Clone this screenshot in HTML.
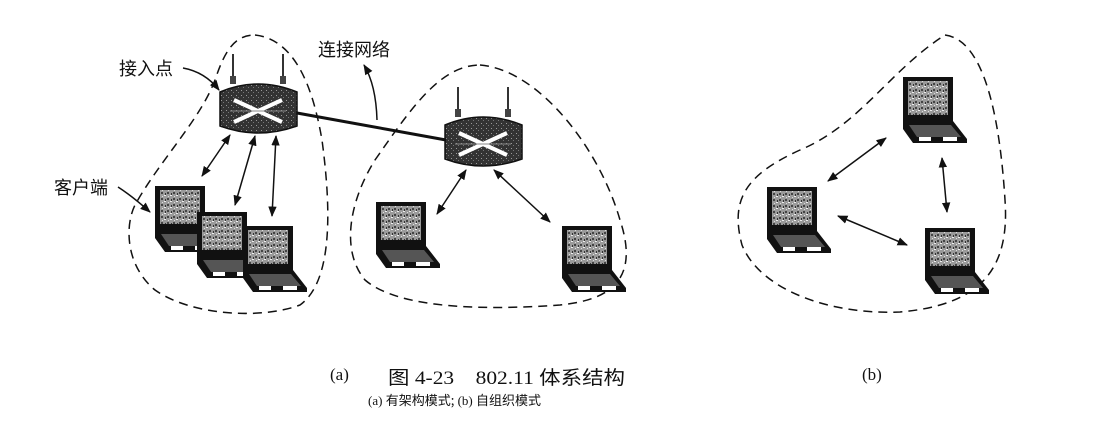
<!DOCTYPE html>
<html><head><meta charset="utf-8"><style>
html,body{margin:0;padding:0;background:#fff;}
svg{display:block;}
text{font-family:"Liberation Serif","Noto Sans CJK SC",serif;fill:#111;}
.cj{font-family:"Noto Sans CJK SC","WenQuanYi Zen Hei",sans-serif;}
</style></head><body>
<svg width="1104" height="423" viewBox="0 0 1104 423" xmlns="http://www.w3.org/2000/svg">
<defs>
<marker id="ah" viewBox="0 0 10 10" refX="9" refY="5" markerWidth="7" markerHeight="7" orient="auto-start-reverse"><path d="M0,1 L10,5 L0,9 z" fill="#111"/></marker>
<pattern id="nz" width="6" height="6" patternUnits="userSpaceOnUse"><rect width="6" height="6" fill="#9a9a9a"/><rect x="0" y="0" width="2" height="2" fill="#444"/><rect x="3" y="3" width="2" height="1" fill="#eee"/><rect x="4" y="1" width="1" height="2" fill="#333"/><rect x="1" y="4" width="1" height="1" fill="#ddd"/></pattern>
<pattern id="nz2" width="5" height="5" patternUnits="userSpaceOnUse"><rect width="5" height="5" fill="#333"/><rect x="1" y="1" width="1" height="1" fill="#999"/><rect x="3" y="3" width="1" height="1" fill="#777"/></pattern>
<g id="lap">
<rect x="0" y="0" width="50" height="44" fill="#111"/>
<rect x="5" y="4" width="40" height="34" fill="url(#nz)"/>
<path d="M0,44 L50,44 L64,62 L64,66 L10,66 L0,52 z" fill="#111"/>
<path d="M6,48 L48,48 L58,60 L14,60 z" fill="#555"/>
<rect x="16" y="60" width="12" height="4" fill="#fff"/>
<rect x="40" y="60" width="14" height="4" fill="#fff"/>
</g>
<g id="ap">
<rect x="12" y="-30" width="2" height="26" fill="#333"/>
<rect x="62" y="-30" width="2" height="26" fill="#333"/>
<rect x="10" y="-8" width="6" height="8" fill="#444"/>
<rect x="60" y="-8" width="6" height="8" fill="#444"/>
<path d="M0,8 Q38,-8 77,8 L77,42 Q38,56 0,42 z" fill="url(#nz2)" stroke="#111" stroke-width="1.5"/>
<path d="M14,16 L62,38 M14,38 L62,16" stroke="#fff" stroke-width="4"/>
<path d="M10,27 L66,27" stroke="#888" stroke-width="1"/>
</g>
</defs>
<g fill="none" stroke="#111" stroke-width="1.5" stroke-dasharray="9,6">
<path d="M255,35 C300,40 315,100 322,140 C330,200 335,280 300,305 C260,320 190,315 155,290 C125,265 125,225 135,205 C160,160 200,120 215,80 C225,50 235,35 255,35 z"/>
<path d="M480,65 C540,70 600,150 620,220 C640,280 610,300 560,305 C490,310 400,310 365,280 C340,250 350,200 375,160 C410,110 440,65 480,65 z"/>
<path d="M945,35 C985,40 1000,120 1005,200 C1010,270 980,305 900,312 C830,315 760,290 742,245 C730,200 745,175 800,150 C860,125 890,70 945,35 z"/>
</g>
<use href="#ap" x="220" y="84"/>
<use href="#ap" x="445" y="117"/>
<path d="M297,113 L446,140" stroke="#111" stroke-width="3"/>
<use href="#lap" x="155" y="186"/>
<use href="#lap" x="197" y="212"/>
<use href="#lap" x="243" y="226"/>
<use href="#lap" x="376" y="202"/>
<use href="#lap" x="562" y="226"/>
<use href="#lap" x="903" y="77"/>
<use href="#lap" x="767" y="187"/>
<use href="#lap" x="925" y="228"/>
<g stroke="#111" stroke-width="1.5" marker-start="url(#ah)" marker-end="url(#ah)">
<line x1="230" y1="135" x2="202" y2="176"/>
<line x1="255" y1="136" x2="235" y2="205"/>
<line x1="276" y1="136" x2="272" y2="216"/>
<line x1="466" y1="170" x2="437" y2="214"/>
<line x1="494" y1="170" x2="550" y2="222"/>
<line x1="886" y1="138" x2="828" y2="181"/>
<line x1="942" y1="158" x2="947" y2="212"/>
<line x1="838" y1="216" x2="907" y2="245"/>
</g>
<g stroke="#111" stroke-width="1.5" fill="none">
<path d="M183,68 Q205,72 219,90" marker-end="url(#ah)"/>
<path d="M118,187 Q132,196 150,212" marker-end="url(#ah)"/>
<path d="M377,120 Q376,85 364,65" marker-end="url(#ah)"/>
</g>
<text class="cj" x="119" y="75" font-size="18">接入点</text>
<text class="cj" x="54" y="194" font-size="18">客户端</text>
<text class="cj" x="318" y="56" font-size="18">连接网络</text>
<text x="330" y="380" font-size="17">(a)</text>
<text x="862" y="380" font-size="17">(b)</text>
<text x="388" y="384" font-size="19" textLength="237" lengthAdjust="spacingAndGlyphs"><tspan class="cj">图</tspan> 4-23　802.11 <tspan class="cj">体系结构</tspan></text>
<text x="368" y="405" font-size="13">(a) <tspan class="cj">有架构模式;</tspan> (b) <tspan class="cj">自组织模式</tspan></text>
</svg>
</body></html>
